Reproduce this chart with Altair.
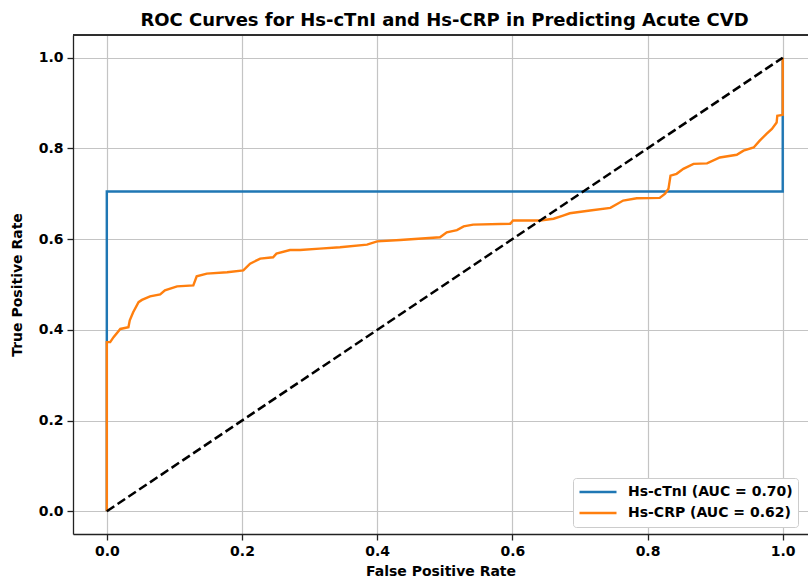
import altair as alt
import pandas as pd

# ---- data ----
fpr_ctni = [0.0, 0.0, 1.0, 1.0]
tpr_ctni = [0.0, 0.705, 0.705, 1.0]

fpr_crp = [0.0, 0.0, 0.005, 0.010, 0.020, 0.032, 0.034, 0.039, 0.047, 0.052,
           0.064, 0.079, 0.086, 0.104, 0.128, 0.133, 0.148, 0.178, 0.202, 0.212,
           0.227, 0.246, 0.251, 0.271, 0.286, 0.315, 0.345, 0.385, 0.400, 0.434,
           0.493, 0.503, 0.518, 0.528, 0.542, 0.597, 0.601, 0.641, 0.661, 0.675,
           0.685, 0.715, 0.745, 0.764, 0.784, 0.818, 0.826, 0.831, 0.834, 0.843,
           0.853, 0.868, 0.888, 0.907, 0.932, 0.942, 0.957, 0.966, 0.976, 0.984,
           0.991, 0.992, 1.0, 1.0]
tpr_crp = [0.0, 0.373, 0.373, 0.384, 0.402, 0.406, 0.421, 0.439, 0.461, 0.466,
           0.474, 0.478, 0.487, 0.496, 0.498, 0.518, 0.524, 0.527, 0.531, 0.546,
           0.557, 0.560, 0.568, 0.576, 0.576, 0.579, 0.582, 0.588, 0.595, 0.598,
           0.604, 0.615, 0.620, 0.628, 0.632, 0.634, 0.641, 0.641, 0.645, 0.652,
           0.657, 0.663, 0.669, 0.685, 0.690, 0.691, 0.700, 0.711, 0.740, 0.744,
           0.755, 0.766, 0.767, 0.780, 0.786, 0.795, 0.802, 0.817, 0.832, 0.843,
           0.857, 0.872, 0.874, 1.0]

diag_x = [0.0, 1.0]
diag_y = [0.0, 1.0]

series_names = ["Hs-cTnI (AUC = 0.70)", "Hs-CRP (AUC = 0.62)"]
series_colors = ["#1f77b4", "#ff7f0e"]
tick_values = [0.0, 0.2, 0.4, 0.6, 0.8, 1.0]

rows = []
for i, (x, y) in enumerate(zip(fpr_ctni, tpr_ctni)):
    rows.append({"fpr": x, "tpr": y, "series": series_names[0], "order": i})
for i, (x, y) in enumerate(zip(fpr_crp, tpr_crp)):
    rows.append({"fpr": x, "tpr": y, "series": series_names[1], "order": i})
curves = pd.DataFrame(rows)
diag = pd.DataFrame({"fpr": diag_x, "tpr": diag_y})

W, H = 735, 499
FONT = "DejaVu Sans"

xscale = alt.Scale(domain=[-0.05, 1.0374], nice=False, zero=False)
yscale = alt.Scale(domain=[-0.05, 1.05], nice=False, zero=False)

axis_style = dict(
    labelFont=FONT, labelFontSize=14, labelFontWeight="bold", labelColor="black",
    titleFont=FONT, titleFontSize=14, titleFontWeight="bold", titleColor="black",
    domainColor="#222222", domainWidth=1.3, tickColor="#222222", tickWidth=1.3,
    tickSize=6, gridColor="#c4c4c4", gridWidth=1.2,
)
xaxis = alt.Axis(values=tick_values, format=".1f", title="False Positive Rate",
                 titlePadding=6, labelPadding=4, **axis_style)
yaxis = alt.Axis(values=tick_values, format=".1f", title="True Positive Rate",
                 titlePadding=14, labelPadding=4, **axis_style)

lines = alt.Chart(curves).mark_line(strokeWidth=2.4, interpolate="linear").encode(
    x=alt.X("fpr:Q", scale=xscale, axis=xaxis),
    y=alt.Y("tpr:Q", scale=yscale, axis=yaxis),
    color=alt.Color(
        "series:N",
        scale=alt.Scale(domain=series_names, range=series_colors),
        sort=series_names,
        legend=alt.Legend(
            title=None, orient="none", legendX=500, legendY=443,
            symbolType="stroke", symbolSize=1369, symbolStrokeWidth=2.5,
            labelFont=FONT, labelFontSize=14, labelFontWeight="bold",
            labelColor="black", labelLimit=400, fillColor="white",
            strokeColor="#cccccc", padding=5, cornerRadius=3,
            clipHeight=18, rowPadding=3, labelOffset=10,
        ),
    ),
    order="order:Q",
    detail="series:N",
)

diagonal = alt.Chart(diag).mark_line(color="black", strokeWidth=2.5,
                                      strokeDash=[9, 4]).encode(
    x=alt.X("fpr:Q", scale=xscale),
    y=alt.Y("tpr:Q", scale=yscale),
)

top_spine = alt.Chart(diag).mark_rule(color="#222222", strokeWidth=1.3).encode(
    x=alt.value(0), x2=alt.value(W), y=alt.value(0)
)

chart = alt.layer(lines, diagonal, top_spine).properties(
    width=W, height=H,
    title=alt.TitleParams(
        "ROC Curves for Hs-cTnI and Hs-CRP in Predicting Acute CVD",
        font=FONT, fontSize=18, fontWeight="bold", color="black",
        anchor="middle", offset=4, dx=4,
    ),
    autosize=alt.AutoSizeParams(type="none"),
    padding={"left": 73, "top": 35, "right": 0, "bottom": 46},
).configure_view(stroke=None).configure(background="white")

chart.save("out.html", embed_options={"renderer": "svg", "actions": False})
